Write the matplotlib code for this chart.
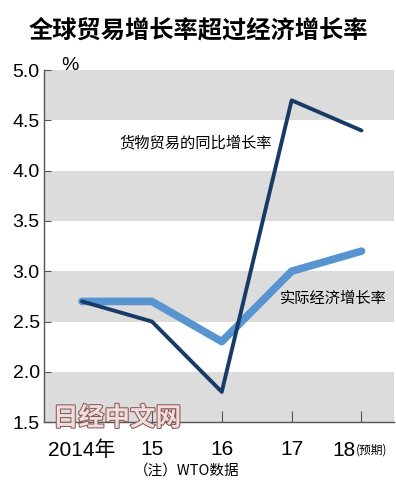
import matplotlib.pyplot as plt
import matplotlib.patheffects as pe
import matplotlib.transforms as mtransforms

plt.rcParams['font.family'] = ['Liberation Sans', 'Noto Sans CJK SC', 'DejaVu Sans']

years = ['2014年', '15', '16', '17', '']
trade = [2.7, 2.5, 1.8, 4.7, 4.4]
gdp = [2.7, 2.7, 2.3, 3.0, 3.2]
yticks = [1.5, 2.0, 2.5, 3.0, 3.5, 4.0, 4.5, 5.0]

cjk = ['Noto Sans CJK SC', 'DejaVu Sans']

fig = plt.figure(figsize=(3.96, 4.84), dpi=100)
ax = fig.add_axes([0.111, 0.128, 0.883, 0.727])

x = list(range(len(years)))
# gray bands
for lo in [1.5, 2.5, 3.5, 4.5]:
    ax.axhspan(lo, lo + 0.5, color='#dcdcdc', lw=0, zorder=0)

ax.plot(x, gdp, color='#5895d0', lw=5.5, solid_capstyle='round', zorder=2)
ax.plot(x, trade, color='#173a67', lw=2.8, solid_capstyle='round', zorder=3)

ax.set_xlim(-0.545, 4.46)
ax.set_ylim(1.5, 5.0)
ax.set_yticks(yticks)
ax.set_yticklabels(['%.1f' % v for v in yticks], fontsize=14)
ax.set_xticks(x)
ax.set_xticklabels(years, fontsize=15)
ax.tick_params(axis='y', direction='in', length=5, width=0.8, color='#555555', pad=3)
ax.tick_params(axis='x', direction='in', length=8, width=0.8, color='#555555', pad=13)
for s in ['top', 'right']:
    ax.spines[s].set_visible(False)
for s in ['left', 'bottom']:
    ax.spines[s].set_color('#555555')
    ax.spines[s].set_linewidth(1.0)

# last tick label: "18" + small "(预期)"
tr = mtransforms.blended_transform_factory(ax.transData, fig.transFigure)
ax.text(x[-1] - 0.09, 0.07, '18', transform=tr, fontsize=15, ha='right', va='center')
ax.text(x[-1] - 0.08, 0.07, '(预期)', transform=tr, fontsize=8.5, family=cjk,
        ha='left', va='center')

fig.text(0.5, 0.936, '全球贸易增长率超过经济增长率', ha='center', va='center',
         fontsize=17.5, fontweight='bold', family=cjk)
fig.text(0.177, 0.864, '%', ha='center', va='center', fontsize=14)
ax.text(2.72, 4.28, '货物贸易的同比增长率', ha='right', va='center', fontsize=11, family=cjk)
ax.text(2.84, 2.73, '实际经济增长率', ha='left', va='center', fontsize=11, family=cjk)
fig.text(0.472, 0.027, '（注）WTO数据', ha='center', va='center', fontsize=10.5, family=cjk)

wm = fig.text(0.296, 0.136, '日经中文网', ha='center', va='center', fontsize=18.5,
              fontweight='bold', family=cjk, color='#f2dcdc', zorder=10)
wm.set_path_effects([pe.Stroke(linewidth=1.5, foreground='#8a5a5a'), pe.Normal()])

fig.savefig('out.png', dpi=100)
